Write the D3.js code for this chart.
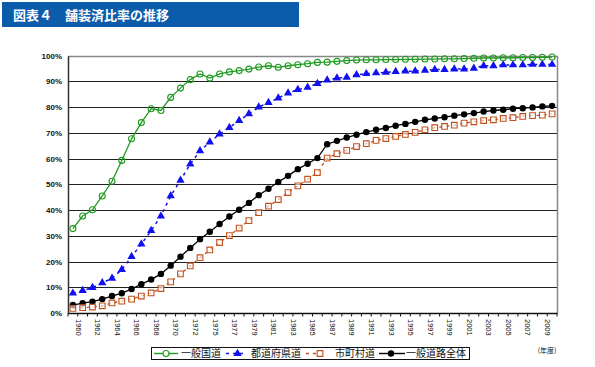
<!DOCTYPE html>
<html><head><meta charset="utf-8">
<script src="https://cdn.jsdelivr.net/npm/d3@7/dist/d3.min.js"></script>
<style>
body{margin:0;background:#fff;}
svg{display:block;font-family:"Liberation Sans",Arial,sans-serif;}
.jp{font-family:"Noto Sans CJK JP","Noto Sans CJK SC",sans-serif;}
</style></head><body>
<svg id="c" width="595" height="367"></svg>
<script>
const years = ["1960","1961","1962","1963","1964","1965","1966","1967","1968","1969","1970","1971","1972","1974",
"1975","1976","1977","1978","1979","1980","1981","1982","1983","1984","1985","1986","1987","1988","1989","1990",
"1991","1992","1993","1994","1995","1996","1997","1998","1999","2000","2001","2002","2003","2004","2005","2006","2007","2008","2009","2010"];
const tickLabels = ["1960","1962","1964","1966","1968","1970","1972","1975","1977","1979","1981","1983","1985","1987","1989","1991","1993","1995","1997","1999","2001","2003","2005","2007","2009"];
const yTicks = [0,10,20,30,40,50,60,70,80,90,100];

const kokudo = [32.8,37.7,40.1,45.5,51.2,59.3,67.7,74.0,79.4,78.7,83.8,87.4,90.7,92.9,91.3,92.9,93.7,94.2,94.8,95.6,96.1,95.5,96.1,96.5,96.9,97.4,97.5,97.8,98.1,98.3,98.4,
98.4,98.5,98.5,98.6,98.6,98.7,98.7,98.8,98.8,98.9,99.0,99.1,99.1,99.2,99.2,99.3,99.3,99.4,99.5];
const todofuken = [7.7,8.7,9.9,11.7,13.5,16.9,21.9,26.8,32.0,37.7,45.5,51.6,57.9,63.0,66.4,69.5,72.1,74.8,77.4,80.0,81.8,83.5,85.5,86.8,87.7,89.2,90.5,91.3,91.6,92.6,93.0,
93.3,93.5,93.8,94.0,94.0,94.3,94.6,94.6,94.8,94.8,95.1,96.1,96.1,96.4,96.4,96.4,96.6,96.6,96.6];
const shichoson = [1.8,2.1,2.3,2.8,3.9,4.6,5.4,6.6,7.8,9.5,12.1,15.2,18.3,21.5,24.5,27.4,30.1,33.0,35.9,39.0,41.5,44.1,46.8,49.4,52.0,54.6,60.2,61.9,63.2,64.7,65.8,
67.1,67.8,68.6,69.4,70.2,71.2,72.0,72.5,73.0,73.8,74.3,74.8,75.1,75.6,75.9,76.4,76.7,76.9,77.4];
const zentai = [3.1,3.8,4.4,5.4,6.6,7.7,9.3,11.2,13.0,15.2,18.4,21.9,25.3,28.7,31.6,34.6,37.5,40.1,42.8,45.8,48.3,50.9,53.3,55.9,58.0,60.2,65.6,66.9,68.2,69.3,70.3,
71.2,71.9,72.8,73.5,74.3,75.1,75.6,76.1,76.7,77.2,77.7,78.3,78.7,79.0,79.4,79.6,79.9,80.3,80.5];

const seriesNames = ["一般国道","都道府県道","市町村道","一般道路全体"];
const title = "図表４　舗装済比率の推移";
const unitLabel = "(年度)";

const svg = d3.select("#c");
const L=68, R=557, T=55.7, B=313;
const x = d3.scaleBand().domain(years).range([L,R]).padding(0);
const y = d3.scaleLinear().domain([0,100]).range([B,T]);
const cx = d => x(d)+x.bandwidth()/2;

// title bar
svg.append("rect").attr("x",2).attr("y",2).attr("width",297).attr("height",25).attr("fill","#0B5CAA");
svg.append("text").attr("class","jp").attr("x",13).attr("y",19.5).attr("fill","#fff")
  .attr("font-size",13).attr("font-weight","bold").text(title);

// gridlines
svg.append("g").selectAll("line").data(yTicks.filter(v=>v>0&&v<100)).join("line")
  .attr("x1",L).attr("x2",R).attr("y1",d=>Math.round(y(d))+0.5).attr("y2",d=>Math.round(y(d))+0.5)
  .attr("stroke","#222").attr("stroke-width",1);
// top and right border
svg.append("line").attr("x1",L).attr("x2",R).attr("y1",Math.round(T)+0.5).attr("y2",Math.round(T)+0.5).attr("stroke","#888").attr("stroke-width",1.5);
svg.append("line").attr("x1",R+0.5).attr("x2",R+0.5).attr("y1",T).attr("y2",B).attr("stroke","#888").attr("stroke-width",1.5);

// y axis
const ya = d3.axisLeft(y).tickValues(yTicks).tickSize(0).tickPadding(6).tickFormat(d=>d+"%");
const yg = svg.append("g").attr("transform",`translate(${L},0)`).call(ya);
yg.select(".domain").attr("stroke","#333").attr("stroke-width",1.5);
yg.selectAll("text").attr("font-size",8).attr("font-weight","bold").attr("fill","#111");

// x axis
const xa = d3.axisBottom(x).tickValues(tickLabels).tickSize(0).tickPadding(0);
const xg = svg.append("g").attr("transform",`translate(0,${B})`).call(xa);
xg.select(".domain").attr("stroke","#111").attr("stroke-width",1.5);
xg.selectAll("text").attr("font-size",7.5).attr("fill","#111")
  .attr("text-anchor","start").attr("dy",null)
  .attr("transform","translate(2.7,6) rotate(90)");
// boundary ticks
svg.append("g").selectAll("line").data(years.map(d=>x(d)).concat([R])).join("line")
  .attr("x1",d=>d).attr("x2",d=>d).attr("y1",B).attr("y2",B+3.5).attr("stroke","#111").attr("stroke-width",1);

// series
const line = d3.line().x((d,i)=>cx(years[i])).y(d=>y(d));
const gS = svg.append("g");
function drawLine(data,color,dash,w){
  gS.append("path").datum(data).attr("d",line).attr("fill","none").attr("stroke",color)
    .attr("stroke-width",w).attr("stroke-dasharray",dash);
}
drawLine(zentai,"#000",null,1.3);
drawLine(shichoson,"#C0501C","3,4",1.3);
drawLine(todofuken,"#1010F0","3,4",1.5);
drawLine(kokudo,"#1E9A1E",null,1.3);

const sq = d3.symbol().type(d3.symbolSquare).size(32);
const tri = d3.symbol().type(d3.symbolTriangle).size(30);
gS.append("g").selectAll("circle").data(zentai).join("circle")
  .attr("cx",(d,i)=>cx(years[i])).attr("cy",d=>y(d)).attr("r",3.2).attr("fill","#000");
gS.append("g").selectAll("path").data(shichoson).join("path")
  .attr("d",sq).attr("transform",(d,i)=>`translate(${cx(years[i])},${y(d)})`)
  .attr("fill","#fff").attr("fill-opacity",0.6).attr("stroke","#C0501C").attr("stroke-width",1.1);
gS.append("g").selectAll("path").data(todofuken).join("path")
  .attr("d",tri).attr("transform",(d,i)=>`translate(${cx(years[i])},${y(d)})`)
  .attr("fill","#1010F0");
gS.append("g").selectAll("circle").data(kokudo).join("circle")
  .attr("cx",(d,i)=>cx(years[i])).attr("cy",d=>y(d)).attr("r",3).attr("fill","none")
  .attr("stroke","#1E9A1E").attr("stroke-width",1.1);

// unit label
svg.append("text").attr("class","jp").attr("x",547).attr("y",353).attr("font-size",7).attr("text-anchor","middle").attr("fill","#111").text(unitLabel);

// legend
const lg = svg.append("g");
lg.append("rect").attr("x",151.5).attr("y",347.5).attr("width",318).attr("height",12).attr("fill","#fff").attr("stroke","#111").attr("stroke-width",1);
const ly = 353.5;
const items = [
  {x1:154,x2:178,m:166,tx:181,color:"#1E9A1E",dash:null,type:"oc"},
  {x1:226,x2:247,m:237.5,tx:251,color:"#1010F0",dash:"3,4",type:"tri"},
  {x1:306,x2:322,m:320,tx:335,color:"#C0501C",dash:"3,4",type:"sq"},
  {x1:379,x2:405,m:391,tx:406,color:"#000",dash:null,type:"fc"}
];
items.forEach((it,i)=>{
  lg.append("line").attr("x1",it.x1).attr("x2",it.x2).attr("y1",ly).attr("y2",ly).attr("stroke",it.color).attr("stroke-width",1.4).attr("stroke-dasharray",it.dash);
  if(it.type==="oc") lg.append("circle").attr("cx",it.m).attr("cy",ly).attr("r",3).attr("fill","#fff").attr("stroke",it.color).attr("stroke-width",1.1);
  if(it.type==="fc") lg.append("circle").attr("cx",it.m).attr("cy",ly).attr("r",3.2).attr("fill",it.color);
  if(it.type==="tri") lg.append("path").attr("d",tri).attr("transform",`translate(${it.m},${ly})`).attr("fill",it.color);
  if(it.type==="sq") lg.append("path").attr("d",sq).attr("transform",`translate(${it.m},${ly})`).attr("fill","#fff").attr("stroke",it.color).attr("stroke-width",1.1);
  lg.append("text").attr("class","jp").attr("x",it.tx).attr("y",ly+3.6).attr("font-size",10).attr("fill","#111").text(seriesNames[i]);
});
</script>
</body></html>
